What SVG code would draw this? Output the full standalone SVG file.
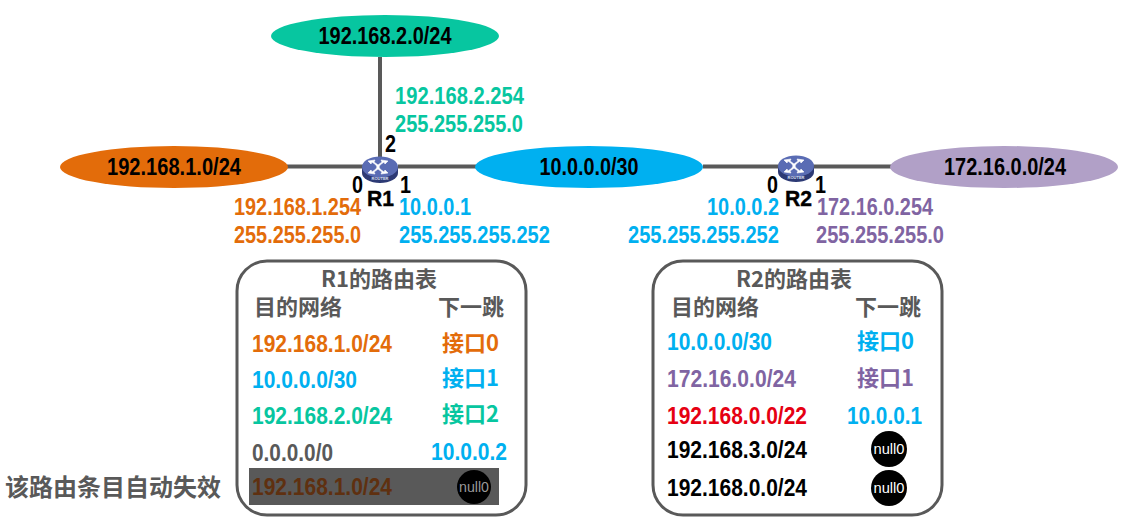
<svg xmlns="http://www.w3.org/2000/svg" width="1127" height="517" viewBox="0 0 1127 517">
<style>
text{font-family:"Liberation Sans","Noto Sans CJK SC",sans-serif;font-weight:bold;font-size:23px}
.cjk{font-family:"Noto Sans CJK SC","Liberation Sans",sans-serif;font-size:22px}
.o{fill:#e36c0a}.b{fill:#00b0f0}.g{fill:#07c6a0}.p{fill:#8064a2}.d{fill:#595959}.k{fill:#000}.r{fill:#e60012}
.m{text-anchor:middle}
.link{stroke:#595959;stroke-width:4;fill:none}
.tbl{fill:#fff;stroke:#595959;stroke-width:3}
.nul{font-size:15px;font-weight:normal;fill:#fff;text-anchor:middle}
.port{font-size:24px;fill:#000}
.name{font-size:22px;fill:#000;stroke:#000;stroke-width:.4}
</style>
<defs>
<g id="router">
<path d="M-18 0v6a18 10 0 0 0 36 0v-6z" fill="#2d3a75"/>
<ellipse cx="0" cy="0" rx="18" ry="10.500" fill="#5a6cb4"/>
<path d="M-12-6l7-1-1 2 4 3 4-3-1-2 7 1-3 3-1-2-4 3-1 2 1 2 4 3 1-2 3 3-7 1 1-2-4-3-4 3 1 2-7-1 3-3 1 2 4-3 1-2-1-2-4-3-1 2z" fill="#fff" stroke="#fff" stroke-width=".6"/>
<text x="0" y="13" text-anchor="middle" style="font-size:4px;fill:#dfe3f5">ROUTER</text>
</g>
</defs>
<rect width="1127" height="517" fill="#fff"/>

<g id="connectors">
<path class="link" d="M287 166.500H363M380 57V158M398 166.500H480M703 166.500H779M813 166.500H892"/>
</g>

<g id="net-192-168-2">
<ellipse cx="385" cy="36" rx="114" ry="21" fill="#07c6a0"/>
<text class="k m" x="385" y="44" textLength="133" lengthAdjust="spacingAndGlyphs">192.168.2.0/24</text>
</g>
<g id="net-192-168-1">
<ellipse cx="174" cy="167" rx="114" ry="21" fill="#e36c0a"/>
<text class="k m" x="174" y="175" textLength="134" lengthAdjust="spacingAndGlyphs">192.168.1.0/24</text>
</g>
<g id="net-10-0-0-0">
<ellipse cx="589" cy="167" rx="114" ry="21" fill="#00b0f0"/>
<text class="k m" x="589" y="175" textLength="99" lengthAdjust="spacingAndGlyphs">10.0.0.0/30</text>
</g>
<g id="net-172-16">
<ellipse cx="1004" cy="167" rx="114" ry="21" fill="#b1a0c7"/>
<text class="k m" x="1005" y="175" textLength="122" lengthAdjust="spacingAndGlyphs">172.16.0.0/24</text>
</g>

<g id="router-r1">
<use href="#router" x="380" y="167"/>
<text class="port" x="385" y="152" textLength="11" lengthAdjust="spacingAndGlyphs">2</text>
<text class="port" x="352" y="193" textLength="11" lengthAdjust="spacingAndGlyphs">0</text>
<text class="port" x="400" y="193" textLength="11" lengthAdjust="spacingAndGlyphs">1</text>
<text class="name" x="367" y="206" textLength="27" lengthAdjust="spacingAndGlyphs">R1</text>
</g>
<g id="router-r2">
<use href="#router" x="796" y="166"/>
<text class="port" x="767" y="193" textLength="11" lengthAdjust="spacingAndGlyphs">0</text>
<text class="port" x="815" y="193" textLength="11" lengthAdjust="spacingAndGlyphs">1</text>
<text class="name" x="785" y="206" textLength="27" lengthAdjust="spacingAndGlyphs">R2</text>
</g>

<g id="addresses">
<text class="g" x="395" y="104" textLength="129" lengthAdjust="spacingAndGlyphs">192.168.2.254</text>
<text class="g" x="395" y="132" textLength="128" lengthAdjust="spacingAndGlyphs">255.255.255.0</text>
<text class="o" x="234" y="215" textLength="127" lengthAdjust="spacingAndGlyphs">192.168.1.254</text>
<text class="o" x="234" y="243" textLength="127" lengthAdjust="spacingAndGlyphs">255.255.255.0</text>
<text class="b" x="399" y="215" textLength="72" lengthAdjust="spacingAndGlyphs">10.0.0.1</text>
<text class="b" x="399" y="243" textLength="151" lengthAdjust="spacingAndGlyphs">255.255.255.252</text>
<text class="b" x="707" y="215" textLength="72" lengthAdjust="spacingAndGlyphs">10.0.0.2</text>
<text class="b" x="628" y="243" textLength="151" lengthAdjust="spacingAndGlyphs">255.255.255.252</text>
<text class="p" x="817" y="215" textLength="116" lengthAdjust="spacingAndGlyphs">172.16.0.254</text>
<text class="p" x="816" y="243" textLength="128" lengthAdjust="spacingAndGlyphs">255.255.255.0</text>
</g>

<g id="table-r1">
<rect class="tbl" x="237" y="261" width="289" height="254" rx="30"/>
<text class="d m cjk" x="379" y="287">R1的路由表</text>
<text class="d cjk" x="254" y="315">目的网络</text>
<text class="d cjk" x="438" y="315">下一跳</text>
<text class="o" x="252" y="352" textLength="140" lengthAdjust="spacingAndGlyphs">192.168.1.0/24</text>
<text class="o cjk" x="442" y="351">接口0</text>
<text class="b" x="252" y="388" textLength="105" lengthAdjust="spacingAndGlyphs">10.0.0.0/30</text>
<text class="b cjk" x="442" y="386">接口1</text>
<text class="g" x="252" y="424" textLength="140" lengthAdjust="spacingAndGlyphs">192.168.2.0/24</text>
<text class="g cjk" x="442" y="422">接口2</text>
<text class="d" x="252" y="461" textLength="81" lengthAdjust="spacingAndGlyphs">0.0.0.0/0</text>
<text class="b" x="431" y="460" textLength="76" lengthAdjust="spacingAndGlyphs">10.0.0.2</text>
<rect x="249" y="468" width="250" height="37" fill="#595959"/>
<text x="252" y="495" style="fill:#5f3010" textLength="140" lengthAdjust="spacingAndGlyphs">192.168.1.0/24</text>
<circle cx="474" cy="487" r="17" fill="#000"/>
<text class="nul" x="474" y="492" style="fill:#999" textLength="30" lengthAdjust="spacingAndGlyphs">null0</text>
</g>

<g id="table-r2">
<rect class="tbl" x="653" y="261" width="289" height="254" rx="30"/>
<text class="d m cjk" x="794" y="287">R2的路由表</text>
<text class="d cjk" x="671" y="315">目的网络</text>
<text class="d cjk" x="855" y="315">下一跳</text>
<text class="b" x="667" y="350" textLength="105" lengthAdjust="spacingAndGlyphs">10.0.0.0/30</text>
<text class="b cjk" x="857" y="349">接口0</text>
<text class="p" x="667" y="387" textLength="129" lengthAdjust="spacingAndGlyphs">172.16.0.0/24</text>
<text class="p cjk" x="857" y="386">接口1</text>
<text class="r" x="667" y="424" textLength="140" lengthAdjust="spacingAndGlyphs">192.168.0.0/22</text>
<text class="b" x="847" y="424" textLength="75" lengthAdjust="spacingAndGlyphs">10.0.0.1</text>
<text class="k" x="667" y="458" textLength="140" lengthAdjust="spacingAndGlyphs">192.168.3.0/24</text>
<circle cx="889" cy="449" r="18" fill="#000"/>
<text class="nul" x="889" y="454" textLength="31" lengthAdjust="spacingAndGlyphs">null0</text>
<text class="k" x="667" y="496" textLength="140" lengthAdjust="spacingAndGlyphs">192.168.0.0/24</text>
<circle cx="889" cy="488" r="18" fill="#000"/>
<text class="nul" x="889" y="493" textLength="31" lengthAdjust="spacingAndGlyphs">null0</text>
</g>

<g id="note">
<text class="d cjk" x="5" y="496" style="font-size:24px">该路由条目自动失效</text>
</g>
</svg>
